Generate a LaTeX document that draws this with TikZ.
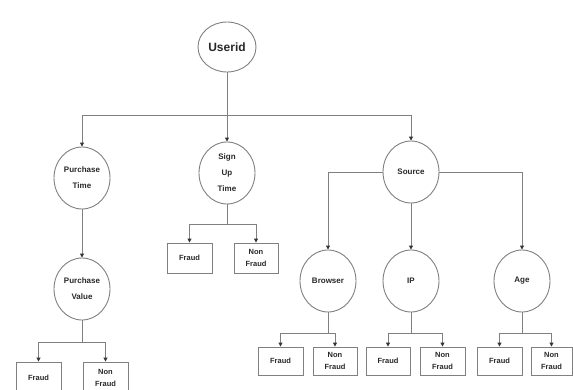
\documentclass[tikz,border=0pt]{standalone}
\usepackage{fontspec}
\setmainfont{Liberation Sans}
\usetikzlibrary{shapes.geometric,arrows.meta}
\definecolor{linec}{RGB}{128,128,128}
\definecolor{textc}{RGB}{40,40,40}
\tikzset{
  bubble/.style={ellipse,draw=linec,line width=0.9pt,fill=white,inner sep=0pt,
    minimum width=56pt,minimum height=62pt,align=center,text=textc,
    font=\fontsize{8}{16}\selectfont\bfseries},
  leaf/.style={rectangle,draw=linec,line width=0.9pt,fill=white,inner sep=0pt,
    minimum width=45pt,minimum height=28pt,align=center,text=textc,
    font=\fontsize{7.5}{12}\selectfont\bfseries},
  conn/.style={draw=linec,line width=0.9pt},
  arr/.style={conn,-{Triangle[length=4pt,width=4pt,color=black!80]}}
}
\begin{document}
\begin{tikzpicture}[x=1pt,y=-1pt]
\useasboundingbox[fill=white] (0,0) rectangle (573,389);
% main nodes
\node[bubble,minimum width=58pt,minimum height=50pt,font=\fontsize{12}{14}\selectfont\bfseries] (uid) at (227,47) {Userid};
\node[bubble] (pt) at (82,178) {Purchase\\Time};
\node[bubble] (su) at (227,173) {Sign\\Up\\Time};
\node[bubble] (src) at (411,172) {Source};
\node[bubble] (pv) at (82,289) {Purchase\\Value};
\node[bubble] (bro) at (328,281) {Browser};
\node[bubble] (ip) at (411,281) {IP};
\node[bubble] (age) at (522,281) {Age};
% leaves
\node[leaf,minimum height=32pt] (pvf) at (38.5,378) {Fraud};
\node[leaf,minimum height=32pt] (pvn) at (105.5,378) {Non\\Fraud};
\node[leaf,minimum height=30pt] (suf) at (189.5,258) {Fraud};
\node[leaf,minimum height=30pt,minimum width=44pt] (sun) at (256,258) {Non\\Fraud};
\node[leaf] (brf) at (280.5,361) {Fraud};
\node[leaf,minimum width=44pt] (brn) at (335,361) {Non\\Fraud};
\node[leaf,minimum width=44pt] (ipf) at (388,361) {Fraud};
\node[leaf] (ipn) at (442.5,361) {Non\\Fraud};
\node[leaf] (agf) at (499.5,361) {Fraud};
\node[leaf,minimum width=41pt] (agn) at (551.5,361) {Non\\Fraud};
% junctions
\coordinate (j0) at (227,115);
\coordinate (jpv) at (82,342);
\coordinate (jsu) at (227,224);
\coordinate (jbr) at (328,333);
\coordinate (jip) at (411,333);
\coordinate (jag) at (522,333);
% connectors
\draw[conn] (uid.south) -- (j0);
\draw[arr] (j0) -| (pt.north);
\draw[arr] (j0) -- (su.north);
\draw[arr] (j0) -| (src.north);
\draw[arr] (pt.south) -- (pv.north);
\draw[arr] (src.west) -| (bro.north);
\draw[arr] (src.south) -- (ip.north);
\draw[arr] (src.east) -| (age.north);
\draw[conn] (pv.south) -- (jpv);
\draw[arr] (jpv) -| (pvf.north);
\draw[arr] (jpv) -| (pvn.north);
\draw[conn] (su.south) -- (jsu);
\draw[arr] (jsu) -| (suf.north);
\draw[arr] (jsu) -| (sun.north);
\draw[conn] (bro.south) -- (jbr);
\draw[arr] (jbr) -| (brf.north);
\draw[arr] (jbr) -| (brn.north);
\draw[conn] (ip.south) -- (jip);
\draw[arr] (jip) -| (ipf.north);
\draw[arr] (jip) -| (ipn.north);
\draw[conn] (age.south) -- (jag);
\draw[arr] (jag) -| (agf.north);
\draw[arr] (jag) -| (agn.north);
\end{tikzpicture}
\end{document}
